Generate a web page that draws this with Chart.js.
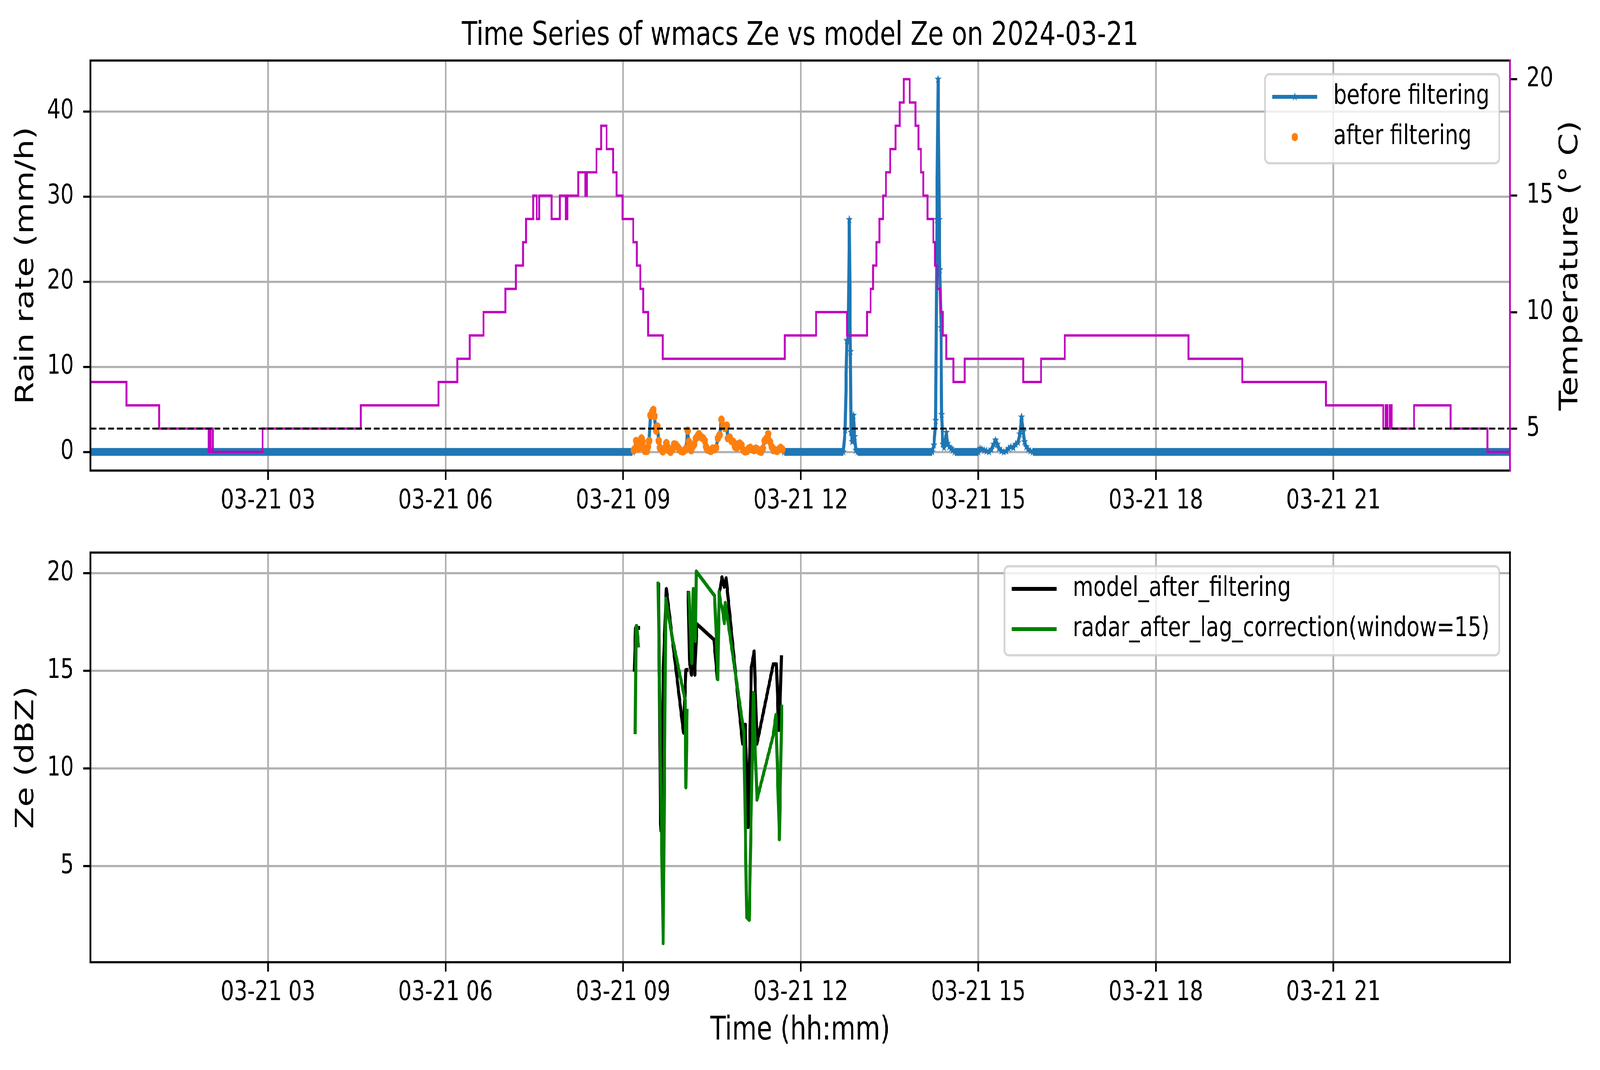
<!DOCTYPE html>
<html>
<head>
<meta charset="utf-8">
<script src="https://cdn.jsdelivr.net/npm/chart.js@4.4.1/dist/chart.umd.min.js"></script>
<style>
html,body{margin:0;padding:0;background:#ffffff;overflow:hidden;}
#outer{position:relative;width:5241px;height:2740px;overflow:hidden;background:#ffffff;}
#wrap{position:absolute;left:0;top:0;width:5241px;height:2740px;background:#ffffff;overflow:hidden;transform-origin:0 0;}
#wrap canvas{position:absolute;left:0;}
</style>
</head>
<body>
<div id="outer">
<div id="wrap">
<canvas id="topChart" width="5241" height="1370" style="top:0px"></canvas>
<canvas id="botChart" width="5241" height="1370" style="top:1370px"></canvas>
</div>
</div>
<script>
// ---------------- DATA (hours of 2024-03-21) ----------------
const timeTickHours = [3, 6, 9, 12, 15, 18, 21];
const timeTickLabels = ['03-21 03', '03-21 06', '03-21 09', '03-21 12', '03-21 15', '03-21 18', '03-21 21'];
const rainTicks = [0, 10, 20, 30, 40];
const tempTicks = [5, 10, 15, 20];
const zeTicks = [5, 10, 15, 20];

// rain rate kept after filtering (mm/h)
const afterHours = [9.18,9.20,9.22,9.24,9.26,9.28,9.31,9.33,9.35,9.37,
  9.40,9.42,9.44,9.46,9.49,9.51,9.53,9.55,9.56,9.58,
  9.60,9.62,9.65,9.67,9.70,9.73,9.75,9.77,9.80,9.83,
  9.86,9.89,9.92,9.95,9.98,10.01,10.04,10.06,10.09,10.11,
  10.13,10.15,10.18,10.20,10.23,10.26,10.28,10.30,10.33,10.35,
  10.38,10.40,10.42,10.45,10.48,10.51,10.54,10.57,10.60,10.63,
  10.66,10.69,10.72,10.75,10.77,10.80,10.83,10.86,10.89,10.92,
  10.94,10.97,11.00,11.03,11.06,11.09,11.12,11.15,11.18,11.21,
  11.24,11.27,11.30,11.33,11.36,11.39,11.42,11.45,11.48,11.51,
  11.54,11.57,11.60,11.63,11.66,11.69];
const afterRain = [0.2,0.4,1.3,0.8,0.4,0.9,1.6,1.2,0.4,0.1,
  0.1,0.6,1.3,4.3,4.7,4.95,4.2,2.8,2.5,3.0,
  1.3,0.5,0.3,0.05,0.4,1.05,0.6,0.2,0.0,0.3,
  0.9,0.85,0.6,0.3,0.1,0.05,0.2,0.4,2.5,1.2,
  0.5,0.2,0.7,0.9,1.6,1.9,2.1,1.8,1.7,1.6,
  1.3,0.6,0.3,0.2,0.1,0.4,0.3,0.5,1.6,2.0,
  3.8,3.1,2.8,3.1,1.6,1.7,1.3,1.2,0.6,0.5,
  0.9,1.0,0.8,0.2,0.05,0.1,0.4,0.5,0.3,0.2,
  0.4,0.3,0.1,0.0,0.4,1.3,1.6,2.1,1.2,0.6,
  0.2,0.2,0.1,0.3,0.5,0.3];

// rain rate before filtering outside the filtered window (mm/h)
const dayStartHours = [0.0, 9.16];
const dayStartRain = [0, 0];
const spikeHours = [11.72, 12.72,12.75,12.78,12.80,12.82,12.84,12.85,12.87,12.89,12.91,12.93,12.96,
  14.22,14.25,14.28,14.30,14.32,14.34,14.35,14.37,14.38,14.40,14.42,14.44,14.46,14.48,14.51,14.54,14.57,14.60,
  15.00,15.03,15.06,15.10,15.14,15.18,15.22,15.26,15.29,15.32,15.35,15.39,15.43,15.47,15.51,15.55,15.59,15.63,
  15.67,15.70,15.73,15.76,15.78,15.81,15.84,15.88,15.92, 23.98];
const spikeRain = [0, 0,2.6,13.1,12.9,27.3,11.8,2.3,1.2,4.3,1.8,0.2,0,
  0,0.8,3.7,27.3,43.8,27.3,21.4,14.6,4.4,0.9,0.5,1.1,2.3,1.0,0.6,0.4,0.2,0,
  0,0.4,0.3,0.2,0.1,0,0.3,0.9,1.4,0.9,0.4,0.1,0,0.1,0.4,0.6,0.5,0.9,
  1.1,2.1,4.1,2.4,1.2,0.6,0.3,0.1,0, 0];

// temperature (deg C): level that starts at each hour
const tempHours = [0,0.61,1.16,2.00,2.03,2.07,2.91,4.57,5.88,6.20,
  6.41,6.64,7.01,7.19,7.31,7.36,7.48,7.54,7.58,7.79,
  7.93,8.03,8.06,8.24,8.36,8.39,8.55,8.63,8.72,8.83,
  8.89,8.99,9.17,9.23,9.29,9.34,9.42,9.67,11.73,12.26,
  12.78,13.12,13.18,13.22,13.28,13.33,13.39,13.44,13.51,13.60,
  13.67,13.74,13.84,13.94,13.99,14.03,14.07,14.14,14.24,14.27,
  14.31,14.36,14.40,14.46,14.58,14.77,15.76,16.06,16.46,18.55,
  19.46,20.87,21.84,21.88,21.91,21.95,21.98,22.36,22.98,23.60,
  23.98];
const tempValues = [7,6,5,4,5,4,5,6,7,8,
  9,10,11,12,13,14,15,14,15,14,
  15,14,15,16,15,16,17,18,17,16,
  15,14,13,12,11,10,9,8,9,10,
  9,10,11,12,13,14,15,16,17,18,
  19,20,19,18,17,16,15,14,13,12,
  11,10,9,8,7,8,7,8,9,8,
  7,6,5,6,5,6,5,6,5,4,
  4];
const tempThreshold = 5;

// Ze (dBZ); null = gap
const modelHours = [9.19,9.21,9.26,9.40,9.60,9.63,9.64,9.68,9.73,10.02,
  10.06,10.08,10.09,10.10,10.12,10.155,10.185,10.21,10.245,10.535,
  10.59,10.625,10.65,10.67,10.707,10.74,11.017,11.063,11.11,11.167,
  11.213,11.26,11.535,11.59,11.627,11.65,11.673];
const modelZe = [15.06,17.2,17.2,null,19.4,7.35,6.8,15.2,19.2,11.83,
  15.05,15.05,null,19.0,15.5,14.8,19.2,14.8,17.4,16.6,
  14.6,19.05,19.4,19.8,19.3,19.75,11.27,12.25,7.0,15.2,
  16.0,11.27,15.34,15.34,11.97,12.95,15.7];
const radarHours = [9.205,9.219,9.23,9.258,9.40,9.59,9.676,9.72,9.79,9.83,
  10.05,10.06,10.08,10.09,10.11,10.16,10.185,10.22,10.235,10.546,
  10.60,10.62,10.65,10.67,10.71,10.725,11.04,11.087,11.13,11.2,
  11.26,11.535,11.58,11.64,11.68];
const radarZe = [11.86,17.3,17.3,16.3,null,19.47,1.05,18.7,17.4,16.7,
  13.45,9.03,12.96,null,18.98,15.4,19.19,16.53,20.1,18.84,
  14.57,19.05,18.4,18.28,17.44,18.49,11.83,2.38,2.24,13.87,
  8.4,11.7,12.75,6.37,13.17];

// ---------------- fit the 5241x2740 figure into the actual window ----------------
(function fitPage() {
  const vw = window.innerWidth || document.documentElement.clientWidth || 5241;
  const vh = window.innerHeight || document.documentElement.clientHeight || 2740;
  const sx = vw / 5241, sy = vh / 2740;
  if (Math.abs(sx - 1) > 0.001 || Math.abs(sy - 1) > 0.001) {
    const outer = document.getElementById('outer');
    outer.style.width = vw + 'px';
    outer.style.height = vh + 'px';
    document.getElementById('wrap').style.transform = 'scale(' + sx + ',' + sy + ')';
  }
})();

// ---------------- helpers ----------------
function zip(xs, ys) {
  const n = Math.min(xs.length, ys.length);
  const out = [];
  for (let i = 0; i < n; i++) out.push({x: xs[i], y: ys[i]});
  return out;
}
const beforePoints = zip(dayStartHours, dayStartRain)
  .concat(zip(afterHours, afterRain))
  .concat(zip(spikeHours, spikeRain));

const FAMILY = '"DejaVu Sans", "Liberation Sans", sans-serif';
const C_BLUE = '#1f77b4', C_ORANGE = '#ff7f0e', C_MAG = '#bf00bf', C_GREEN = '#008000';
const GRID = '#b0b0b0';
const LW = 5.5;

function makeStar(R, color) {
  const s = Math.ceil(2 * R + 2);
  const c = document.createElement('canvas');
  c.width = s; c.height = s;
  const g = c.getContext('2d');
  g.translate(s / 2, s / 2);
  g.beginPath();
  for (let i = 0; i < 10; i++) {
    const r = (i % 2) ? R * 0.382 : R;
    const a = -Math.PI / 2 + i * Math.PI / 5;
    g.lineTo(r * Math.cos(a), r * Math.sin(a));
  }
  g.closePath();
  g.fillStyle = color;
  g.fill();
  return c;
}
const starImg = makeStar(12, C_BLUE);

Chart.defaults.font.family = FAMILY;

function fixedTicks(values) {
  return function (scale) { scale.ticks = values.map(v => ({value: v})); };
}
function noPad(scale) {
  scale.paddingLeft = 0; scale.paddingRight = 0; scale.paddingTop = 0; scale.paddingBottom = 0;
}

function xScale(height) {
  return {
    type: 'linear', min: 0, max: 23.98, bounds: 'data',
    afterBuildTicks: fixedTicks(timeTickHours),
    ticks: {callback: (v, i) => timeTickLabels[i], font: {size: 69}, color: '#000', padding: 14,
            autoSkip: false, maxRotation: 0, minRotation: 0},
    grid: {color: GRID, lineWidth: LW, tickLength: 24, tickColor: '#000', tickWidth: LW},
    border: {display: false},
    afterFit: s => { s.height = height; noPad(s); }
  };
}
function yScale(pos, min, max, ticks, onArea, width) {
  return {
    type: 'linear', position: pos, min: min, max: max, bounds: 'data',
    afterBuildTicks: fixedTicks(ticks),
    ticks: {callback: v => String(v), font: {size: 69}, color: '#000', padding: 30, autoSkip: false},
    grid: {display: true, drawOnChartArea: onArea, color: GRID, lineWidth: LW, tickLength: 24, tickColor: '#000', tickWidth: LW},
    border: {display: false},
    afterFit: s => { s.width = width; noPad(s); }
  };
}

function roundRect(ctx, x, y, w, h, r) {
  ctx.beginPath();
  ctx.moveTo(x + r, y);
  ctx.lineTo(x + w - r, y); ctx.arcTo(x + w, y, x + w, y + r, r);
  ctx.lineTo(x + w, y + h - r); ctx.arcTo(x + w, y + h, x + w - r, y + h, r);
  ctx.lineTo(x + r, y + h); ctx.arcTo(x, y + h, x, y + h - r, r);
  ctx.lineTo(x, y + r); ctx.arcTo(x, y, x + r, y, r);
  ctx.closePath();
}

const decor = {
  id: 'decor',
  afterDatasetsDraw(chart, args, opts) {
    const ctx = chart.ctx, a = chart.chartArea;
    ctx.save();
    ctx.lineWidth = LW;
    ctx.lineCap = 'square';
    ctx.strokeStyle = '#000';
    ctx.beginPath();
    ctx.moveTo(a.right, a.top); ctx.lineTo(a.left, a.top); ctx.lineTo(a.left, a.bottom); ctx.lineTo(a.right, a.bottom);
    ctx.stroke();
    ctx.strokeStyle = opts.rightSpine || '#000';
    ctx.beginPath(); ctx.moveTo(a.right, a.top); ctx.lineTo(a.right, a.bottom); ctx.stroke();
    ctx.restore();
  },
  afterDraw(chart, args, opts) {
    const ctx = chart.ctx, a = chart.chartArea;
    ctx.save();
    ctx.fillStyle = '#000';
    (opts.texts || []).forEach(t => {
      ctx.save();
      ctx.font = t.size + 'px ' + FAMILY;
      ctx.translate(t.x, t.y);
      if (t.rot) ctx.rotate(t.rot);
      ctx.textAlign = 'center';
      ctx.textBaseline = t.baseline || 'middle';
      ctx.fillText(t.text, 0, 0);
      ctx.restore();
    });
    // legend
    const items = opts.legend || [];
    if (items.length) {
      ctx.font = '69px ' + FAMILY;
      const tw = Math.max.apply(null, items.map(i => ctx.measureText(i.label).width));
      const right = a.right - 35, top = a.top + 35;
      const textX = right - 32 - tw;
      const hEnd = textX - 53, hStart = hEnd - 147, left = hStart - 24;
      const h = 228;
      roundRect(ctx, left, top, right - left, h, 14);
      ctx.fillStyle = 'rgba(255,255,255,0.8)';
      ctx.fill();
      ctx.lineWidth = 6;
      ctx.strokeStyle = 'rgba(204,204,204,0.8)';
      ctx.stroke();
      items.forEach((it, k) => {
        const y = top + 58 + k * 103;
        const cx = (hStart + hEnd) / 2;
        if (it.line) {
          ctx.strokeStyle = it.color; ctx.lineWidth = 10; ctx.lineCap = 'butt';
          ctx.beginPath(); ctx.moveTo(hStart, y); ctx.lineTo(hEnd, y); ctx.stroke();
        }
        if (it.star) ctx.drawImage(starImg, cx - starImg.width / 2, y - starImg.height / 2);
        if (it.dot) {
          ctx.fillStyle = it.color; ctx.beginPath(); ctx.arc(cx, y, 10.5, 0, Math.PI * 2); ctx.fill();
        }
        ctx.fillStyle = '#000';
        ctx.textAlign = 'left'; ctx.textBaseline = 'middle';
        ctx.fillText(it.label, textX, y);
      });
    }
    ctx.restore();
  }
};

const common = {
  responsive: false, animation: false, devicePixelRatio: 1, events: [],
};

// ---------------- TOP CHART ----------------
new Chart(document.getElementById('topChart'), {
  type: 'line',
  data: {
    datasets: [
      {
        label: 'before filtering', data: beforePoints, yAxisID: 'y', order: 4,
        borderColor: C_BLUE, backgroundColor: C_BLUE, borderWidth: 10,
        borderJoinStyle: 'round', borderCapStyle: 'butt',
        pointStyle: starImg, pointRadius: 12, pointHoverRadius: 12,
        segment: {borderWidth: c => (c.p0.parsed.y === 0 && c.p1.parsed.y === 0) ? 20 : 10}
      },
      {
        label: 'after filtering', data: zip(afterHours, afterRain), yAxisID: 'y', order: 3,
        showLine: false, pointStyle: 'circle', pointRadius: 10.5, pointBorderWidth: 0,
        pointBackgroundColor: C_ORANGE, pointBorderColor: C_ORANGE, borderColor: C_ORANGE, backgroundColor: C_ORANGE
      },
      {
        label: 'temperature', data: zip(tempHours, tempValues), yAxisID: 'y2', order: 2,
        stepped: 'before', borderColor: C_MAG, borderWidth: 6, pointRadius: 0, borderJoinStyle: 'miter'
      },
      {
        label: 'threshold', data: [{x: 0, y: tempThreshold}, {x: 23.98, y: tempThreshold}], yAxisID: 'y2', order: 1,
        borderColor: '#000', borderWidth: 5, borderDash: [20, 9], pointRadius: 0
      }
    ]
  },
  options: Object.assign({}, common, {
    layout: {padding: {top: 155, left: 0, right: 0, bottom: 0}},
    scales: {
      x: xScale(165),
      y: yScale('left', -2.19, 45.99, rainTicks, true, 296),
      y2: yScale('right', 3.2, 20.8, tempTicks, false, 295)
    },
    plugins: {
      legend: {display: false}, tooltip: {enabled: false}, title: {display: false},
      decor: {
        rightSpine: C_MAG,
        texts: [
          {text: 'Time Series of wmacs Ze vs model Ze on 2024-03-21', x: 2621, y: 115, size: 83, baseline: 'alphabetic'},
          {text: 'Rain rate (mm/h)', x: 87, y: 680, size: 83, rot: -Math.PI / 2},
          {text: 'Temperature (° C)', x: 5145, y: 680, size: 83, rot: -Math.PI / 2}
        ],
        legend: [
          {label: 'before filtering', color: C_BLUE, line: true, star: true},
          {label: 'after filtering', color: C_ORANGE, dot: true}
        ]
      }
    }
  }),
  plugins: [decor]
});

// ---------------- BOTTOM CHART ----------------
new Chart(document.getElementById('botChart'), {
  type: 'line',
  data: {
    datasets: [
      {
        label: 'model_after_filtering', data: zip(modelHours, modelZe), order: 2,
        borderColor: '#000', borderWidth: 10, pointRadius: 0, spanGaps: false,
        borderJoinStyle: 'round', borderCapStyle: 'square'
      },
      {
        label: 'radar_after_lag_correction(window=15)', data: zip(radarHours, radarZe), order: 1,
        borderColor: C_GREEN, borderWidth: 10, pointRadius: 0, spanGaps: false,
        borderJoinStyle: 'round', borderCapStyle: 'square'
      }
    ]
  },
  options: Object.assign({}, common, {
    layout: {padding: {top: 45, left: 0, right: 295, bottom: 0}},
    scales: {
      x: xScale(276),
      y: yScale('left', 0.08, 21.06, zeTicks, true, 296)
    },
    plugins: {
      legend: {display: false}, tooltip: {enabled: false}, title: {display: false},
      decor: {
        rightSpine: '#000',
        texts: [
          {text: 'Ze (dBZ)', x: 87, y: 570, size: 83, rot: -Math.PI / 2},
          {text: 'Time (hh:mm)', x: 2621, y: 1270, size: 83}
        ],
        legend: [
          {label: 'model_after_filtering', color: '#000', line: true},
          {label: 'radar_after_lag_correction(window=15)', color: C_GREEN, line: true}
        ]
      }
    }
  }),
  plugins: [decor]
});
</script>
</body>
</html>
